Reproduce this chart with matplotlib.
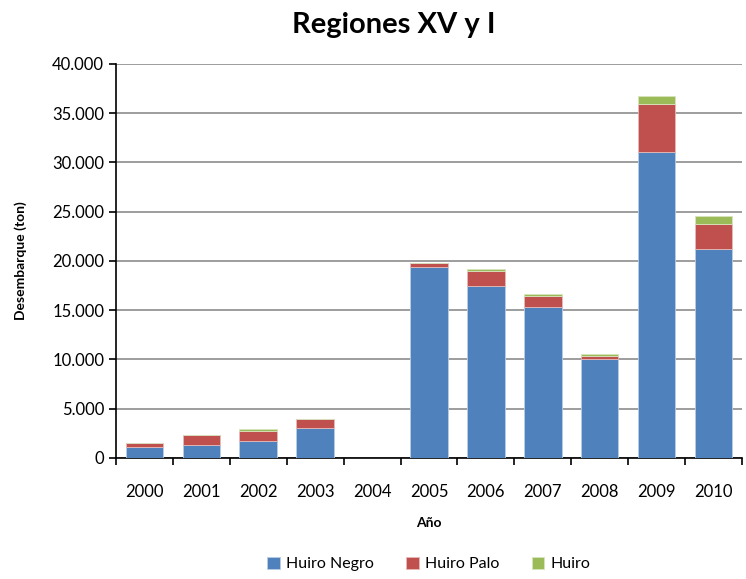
import numpy as np
import matplotlib.pyplot as plt
from matplotlib.ticker import FuncFormatter, FixedLocator

years = ["2000", "2001", "2002", "2003", "2004", "2005", "2006", "2007", "2008", "2009", "2010"]
huiro_negro = [1100, 1350, 1760, 3050, 0, 19420, 17490, 15360, 10080, 31100, 21200]
huiro_palo = [420, 1000, 1010, 940, 0, 380, 1520, 1120, 300, 4840, 2600]
huiro = [0, 0, 170, 0, 0, 0, 150, 200, 170, 840, 740]

plt.rcParams['font.family'] = ['Lato', 'DejaVu Sans']

fig = plt.figure(figsize=(7.46, 5.79), dpi=100)
ax = fig.add_axes([0.1555, 0.209, 0.839, 0.6805])

x = np.arange(len(years))
w = 0.66
neg = np.array(huiro_negro)
pal = np.array(huiro_palo)
hu = np.array(huiro)
ax.bar(x, neg, w, color='#4F81BD', edgecolor='#B9CDE5', linewidth=0.6, label='Huiro Negro', zorder=3)
ax.bar(x, pal, w, bottom=neg, color='#C0504D', edgecolor='#E6B9B8', linewidth=0.6, label='Huiro Palo', zorder=3)
ax.bar(x, hu, w, bottom=neg + pal, color='#9BBB59', edgecolor='#D7E4BD', linewidth=0.6, label='Huiro', zorder=3)

ax.set_xlim(-0.5, len(years) - 0.5)
ax.set_ylim(0, 40000)
ax.set_yticks(np.arange(0, 40001, 5000))
ax.yaxis.set_major_formatter(FuncFormatter(lambda v, p: f"{int(v):,}".replace(",", ".")))
ax.yaxis.grid(True, color='#8C8C8C', linewidth=1.2, zorder=0)
ax.set_axisbelow(True)

ax.set_xticks(x)
ax.set_xticklabels(years)
ax.xaxis.set_minor_locator(FixedLocator(np.arange(-0.5, len(years), 1.0)))
ax.tick_params(axis='x', which='major', length=0, labelsize=12, pad=19)
ax.tick_params(axis='x', which='minor', length=5, width=1.2)
ax.tick_params(axis='y', length=5, width=1.2, labelsize=12)

for s in ['top', 'right']:
    ax.spines[s].set_visible(False)
for s in ['left', 'bottom']:
    ax.spines[s].set_linewidth(1.2)

ax.set_title("Regiones XV y I", fontsize=21, fontweight='bold', pad=22, x=0.444)
ax.set_xlabel("Año", fontsize=10, fontweight='bold', labelpad=12)
ax.set_ylabel("Desembarque (ton)", fontsize=10, fontweight='bold', labelpad=18)

ax.legend(loc='upper center', bbox_to_anchor=(0.5, -0.222), ncol=3, frameon=False,
          fontsize=11.5, handlelength=0.8, handleheight=0.8, columnspacing=2.0, handletextpad=0.4,
          borderpad=0.2)

fig.savefig("out.png", dpi=100)
